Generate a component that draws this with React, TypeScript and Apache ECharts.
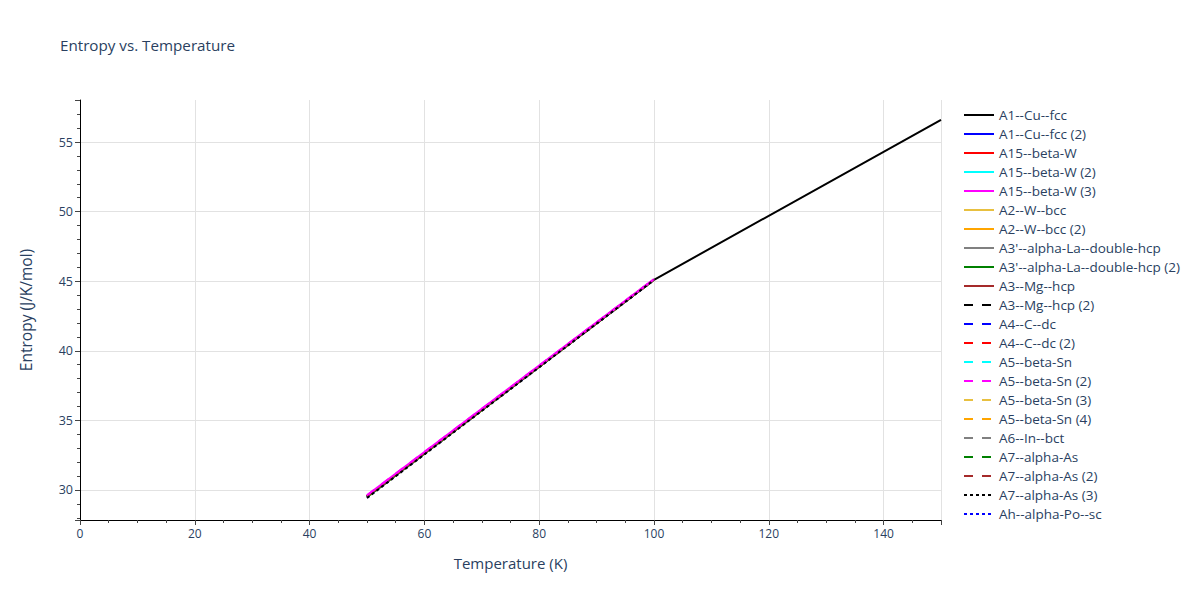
import React, { useEffect, useRef } from "react";
import * as echarts from "echarts";

const seriesNames = [
  "A1--Cu--fcc",
  "A1--Cu--fcc (2)",
  "A15--beta-W",
  "A15--beta-W (2)",
  "A15--beta-W (3)",
  "A2--W--bcc",
  "A2--W--bcc (2)",
  "A3'--alpha-La--double-hcp",
  "A3'--alpha-La--double-hcp (2)",
  "A3--Mg--hcp",
  "A3--Mg--hcp (2)",
  "A4--C--dc",
  "A4--C--dc (2)",
  "A5--beta-Sn",
  "A5--beta-Sn (2)",
  "A5--beta-Sn (3)",
  "A5--beta-Sn (4)",
  "A6--In--bct",
  "A7--alpha-As",
  "A7--alpha-As (2)",
  "A7--alpha-As (3)",
  "Ah--alpha-Po--sc",
];

const seriesColors = [
  "#000000", "#0000ff", "#ff0000", "#00ffff", "#ff00ff", "#e8c040", "#ffa500", "#808080", "#008000", "#a52a2a",
  "#000000", "#0000ff", "#ff0000", "#00ffff", "#ff00ff", "#e8c040", "#ffa500", "#808080", "#008000", "#a52a2a",
  "#000000", "#0000ff",
];

const seriesDash = [
  "solid", "solid", "solid", "solid", "solid", "solid", "solid", "solid", "solid", "solid",
  "dashed", "dashed", "dashed", "dashed", "dashed", "dashed", "dashed", "dashed", "dashed", "dashed",
  "dotted", "dotted",
];

// temperatures (K) for each series
const temps50to150 = [50, 100, 150];
const temps50to100 = [50, 100];

const seriesTemps = [
  temps50to150, temps50to100, temps50to100, temps50to100, temps50to100, temps50to100, temps50to100,
  temps50to100, temps50to100, temps50to100, temps50to100, temps50to100, temps50to100, temps50to100,
  temps50to100, temps50to100, temps50to100, temps50to100, temps50to100, temps50to100, temps50to100,
  temps50to100,
];

// entropy values (J/K/mol)
const seriesValues = [
  [29.5, 45.1, 56.6],
  [29.5, 45.1],
  [29.5, 45.1],
  [29.5, 45.1],
  [29.62, 45.15],
  [29.5, 45.1],
  [29.5, 45.1],
  [29.5, 45.1],
  [29.5, 45.1],
  [29.55, 45.12],
  [29.5, 45.1],
  [29.5, 45.1],
  [29.5, 45.1],
  [29.5, 45.1],
  [29.62, 45.15],
  [29.5, 45.1],
  [29.5, 45.1],
  [29.5, 45.1],
  [29.5, 45.1],
  [29.55, 45.12],
  [29.42, 45.08],
  [29.45, 45.1],
];

const xTicks = { min: 0, max: 150, interval: 20 };
const yRange = { min: 27.84, max: 58.02 };

export default function App() {
  const ref = useRef<HTMLDivElement>(null);
  useEffect(() => {
    if (!ref.current) return;
    const chart = echarts.init(ref.current, undefined, { renderer: "svg" });
    const font = "'Open Sans', 'Noto Sans', sans-serif";
    const textColor = "#2a3f5f";
    // draw order: magenta/brown/black-dotted lines last so they sit on top, as in the reference
    const order = [0, 1, 2, 3, 5, 6, 7, 8, 10, 11, 12, 13, 15, 16, 17, 18, 21, 9, 19, 4, 14, 20];
    chart.setOption({
      animation: false,
      textStyle: { fontFamily: font },
      title: {
        text: "Entropy vs. Temperature",
        left: 60,
        top: 37,
        padding: 0,
        textStyle: { fontSize: 15.2, fontWeight: "normal", color: textColor, fontFamily: font },
      },
      grid: { left: 80, right: 259, top: 100, bottom: 80, containLabel: false },
      legend: {
        orient: "vertical",
        left: 963,
        top: 108,
        padding: 0,
        itemWidth: 30,
        itemHeight: 14,
        itemGap: 5,
        itemStyle: { opacity: 0 },
        textStyle: { fontSize: 13.5, color: textColor, fontFamily: font, lineHeight: 14 },
        data: seriesNames,
      },
      xAxis: {
        type: "value",
        min: xTicks.min,
        max: xTicks.max,
        interval: xTicks.interval,
        name: "Temperature (K)",
        nameLocation: "middle",
        nameGap: 35,
        nameTextStyle: { fontSize: 15, color: textColor },
        axisLine: { show: true, onZero: false, lineStyle: { color: "#000", width: 1 } },
        axisTick: { show: true, inside: false, length: 5, lineStyle: { color: "#444" } },
        minorTick: { show: true, splitNumber: 4, length: 3, lineStyle: { color: "#444" } },
        axisLabel: { fontSize: 12, color: textColor, margin: 7, showMaxLabel: false },
        splitLine: { show: true, lineStyle: { color: "#e2e2e2", width: 1 } },
      },
      yAxis: {
        type: "value",
        min: yRange.min,
        max: yRange.max,
        splitNumber: 6,
        name: "Entropy (J/K/mol)",
        nameLocation: "middle",
        nameGap: 46,
        nameTextStyle: { fontSize: 15.5, color: textColor },
        axisLine: { show: true, onZero: false, lineStyle: { color: "#000", width: 1 } },
        axisTick: { show: true, inside: false, length: 5, lineStyle: { color: "#444" } },
        minorTick: { show: true, splitNumber: 5, length: 3, lineStyle: { color: "#444" } },
        axisLabel: { fontSize: 12.5, color: textColor, margin: 7, showMinLabel: false, showMaxLabel: false },
        splitLine: { show: true, showMinLine: false, showMaxLine: false, lineStyle: { color: "#e2e2e2", width: 1 } },
      },
      series: seriesNames.map((name, i) => ({
        name,
        type: "line",
        symbol: "none",
        showSymbol: false,
        z: 2 + order.indexOf(i) * 0.01,
        data: seriesTemps[i].map((t, j) => [t, seriesValues[i][j]]),
        lineStyle: {
          color: seriesColors[i],
          width: 2,
          type: seriesDash[i] === "dashed" ? [9, 9] : seriesDash[i] === "dotted" ? [3, 3] : "solid",
        },
        itemStyle: { color: seriesColors[i] },
      })),
    });
    return () => chart.dispose();
  }, []);
  return <div ref={ref} style={{ width: 1200, height: 600, position: "absolute", left: 0, top: 0 }} />;
}
